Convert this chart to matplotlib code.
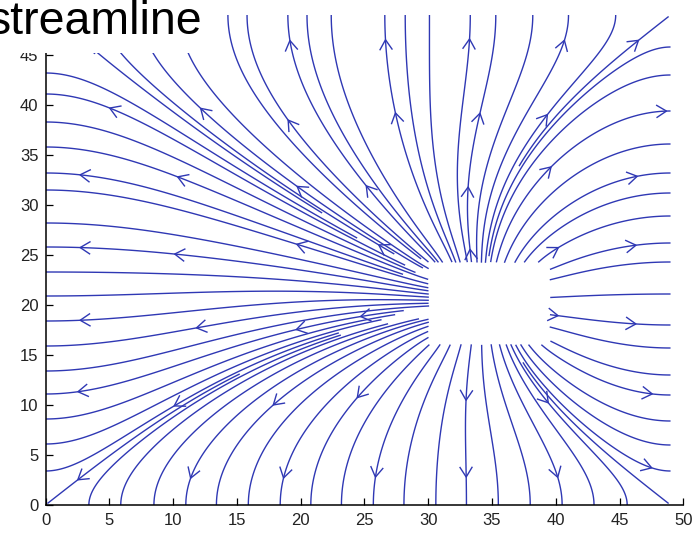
import numpy as np
import matplotlib
matplotlib.use("Agg")
import matplotlib.pyplot as plt
from matplotlib.patches import Rectangle
from matplotlib.collections import LineCollection

# ---------------- values ----------------
domain_max = 49.0                 # solver box [0,49] x [0,49], potential 0 on its edges
source_x = [30.0, 39.6]           # uniformly charged block (blank area of the chart)
source_y = [16.0, 24.3]

# where the streamlines meet the frame
bottom_ends_x = [3.4, 5.9, 8.5, 11.0, 13.4, 15.9, 18.4, 20.8, 23.2, 25.7, 28.1,
                 30.6, 33.0, 35.5, 38.0, 40.5, 43.0, 45.6]
left_ends_y = [3.4, 6.1, 8.6, 11.1, 13.4, 15.9, 18.4, 20.9, 23.3, 25.8, 28.2,
               31.5, 33.2, 35.8, 38.3, 41.1, 43.2]
right_ends_y = [3.4, 6.0, 8.4, 11.0, 13.0, 15.7, 18.0, 21.1, 24.3, 26.2, 28.9,
                31.2, 33.2, 36.1, 39.4, 43.0, 45.8]
top_ends_x = [1.5, 4.5, 7.5, 10.5, 14.3, 15.8, 19.0, 20.5, 22.4, 26.6, 28.2, 30.1,
              33.3, 35.3, 38.2, 41.0, 44.7]
corner_ends = [(0.15, 0.15), (48.85, 0.15), (48.85, 48.85), (0.15, 48.85)]

# arrow heads (approximate positions)
arrow_pts = [(5.1, 39.9), (2.7, 33.1), (2.7, 25.8), (2.7, 18.4), (2.6, 11.2), (2.5, 2.5),
             (12.4, 40.0), (10.2, 32.3), (10.2, 25.8), (11.9, 17.4), (10.0, 10.2), (11.1, 2.8),
             (19.0, 46.4), (19.6, 39.0), (19.7, 31.8), (19.7, 26.0), (19.7, 17.5), (17.5, 10.5), (18.4, 2.8),
             (26.6, 46.5), (26.6, 39.0), (25.0, 31.8), (26.0, 25.8), (24.7, 18.7), (24.7, 10.5), (25.7, 2.8),
             (33.3, 46.6), (33.9, 39.2), (32.9, 31.8), (33.1, 25.5), (33.0, 10.5), (33.0, 2.8),
             (40.7, 46.5), (38.9, 39.5), (40.1, 33.2), (40.2, 25.7), (40.1, 18.5), (39.5, 10.3), (40.3, 2.8),
             (46.3, 46.7), (48.7, 39.4), (46.3, 33.2), (46.3, 26.0), (46.3, 18.2), (47.6, 11.1), (47.5, 3.7)]

x_ticks = [0, 5, 10, 15, 20, 25, 30, 35, 40, 45, 50]
y_ticks = [0, 5, 10, 15, 20, 25, 30, 35, 40, 45]
title_text = "streamline"

# ---------------- potential field (Poisson, Dirichlet frame) ----------------
h = 0.25
n = int(round(domain_max / h)) + 1
g = np.linspace(0.0, domain_max, n)
X, Y = np.meshgrid(g, g)
src = (X >= source_x[0]) & (X <= source_x[1]) & (Y >= source_y[0]) & (Y <= source_y[1])
rho = np.where(src, 1.0, 0.0)
phi = np.zeros((n, n))
free = np.zeros((n, n), bool)
free[1:-1, 1:-1] = True
ii, jj = np.indices((n, n))
red = free & ((ii + jj) % 2 == 0)
black = free & ((ii + jj) % 2 == 1)
w = 2.0 / (1.0 + np.sin(np.pi / (n - 1)))
avg = np.zeros_like(phi)
for _ in range(1600):
    for m in (red, black):
        avg[1:-1, 1:-1] = 0.25 * (phi[:-2, 1:-1] + phi[2:, 1:-1] + phi[1:-1, :-2] + phi[1:-1, 2:]
                                  + h * h * rho[1:-1, 1:-1])
        phi = np.where(m, phi + w * (avg - phi), phi)
gy, gx = np.gradient(phi, h)


def interp(F, x, y):
    fx = min(max(x / h, 0.0), n - 1.000001)
    fy = min(max(y / h, 0.0), n - 1.000001)
    i = int(fx); j = int(fy)
    tx = fx - i; ty = fy - j
    return (F[j, i] * (1 - tx) * (1 - ty) + F[j, i + 1] * tx * (1 - ty)
            + F[j + 1, i] * (1 - tx) * ty + F[j + 1, i + 1] * tx * ty)


def direction(x, y):
    a = interp(gx, x, y); b = interp(gy, x, y)
    r = np.hypot(a, b)
    if r < 1e-12:
        return None
    return a / r, b / r


def in_source(x, y):
    return source_x[0] <= x <= source_x[1] and source_y[0] <= y <= source_y[1]


def trace(x, y, ds=0.08, max_steps=2500):
    """from a frame point uphill to the block"""
    pts = [(x, y)]
    for _ in range(max_steps):
        d1 = direction(x, y)
        if d1 is None:
            break
        xm = x + 0.5 * ds * d1[0]; ym = y + 0.5 * ds * d1[1]
        d2 = direction(xm, ym)
        if d2 is None:
            break
        x = x + ds * d2[0]; y = y + ds * d2[1]
        pts.append((x, y))
        if in_source(x, y):
            break
    return np.array(pts)


seeds = ([(v, 0.0) for v in bottom_ends_x] + [(0.0, v) for v in left_ends_y]
         + [(domain_max, v) for v in right_ends_y] + [(v, domain_max) for v in top_ends_x]
         + corner_ends)
raw = [trace(sx, sy) for sx, sy in seeds]

# ---------------- figure ----------------
W, H = 694, 535
fig = plt.figure(figsize=(W / 100, H / 100), dpi=100)
ax = fig.add_axes([45.5 / W, 30 / H, 637.8 / W, 500 / H])
ax.set_xlim(0, 50)
ax.set_ylim(0, 50)
T = ax.transData
Tinv = T.inverted()

# keep lines apart (as streamslice does): lines nearer the frame corners are cut
# where they crowd into lines already drawn
def corner_dist(p):
    return min(np.hypot(p[0] - a, p[1] - b) for a in (0, domain_max) for b in (0, domain_max))

order = sorted(range(len(seeds)), key=lambda i: -corner_dist(seeds[i]))
occ = np.zeros((H + 10, W + 10), bool)
sep = 2.2
rr = int(np.ceil(sep))
offs = np.array([(dy, dx) for dy in range(-rr, rr + 1) for dx in range(-rr, rr + 1)
                 if dx * dx + dy * dy <= sep * sep])
lines = []
for i in order:
    P = T.transform(raw[i])
    xi = np.clip(np.round(P[:, 0]).astype(int), 0, W + 9)
    yi = np.clip(np.round(P[:, 1]).astype(int), 0, H + 9)
    hit = np.nonzero(occ[yi, xi])[0]
    k = hit[0] if len(hit) else len(P)
    if k < 8:
        continue
    keep = raw[i][:k]
    lines.append(keep[::-1])          # flow order: block side first
    yy = np.clip(yi[:k, None] + offs[None, :, 0], 0, H + 9)
    xx = np.clip(xi[:k, None] + offs[None, :, 1], 0, W + 9)
    occ[yy, xx] = True

line_color = "#2f38b4"
ax.add_collection(LineCollection(lines, colors=line_color, linewidths=1.0))

for s in ("top", "right"):
    ax.spines[s].set_visible(False)
for s in ("left", "bottom"):
    ax.spines[s].set_linewidth(1.1)
ax.set_xticks(x_ticks)
ax.set_yticks(y_ticks)
ax.tick_params(direction="in", length=5, width=0.9, labelsize=12, labelcolor="#222222")
ax.tick_params(axis="x", pad=5.5)
ax.tick_params(axis="y", pad=5)
for lab in ax.get_xticklabels() + ax.get_yticklabels():
    lab.set_family("Liberation Sans")

# arrow heads snapped onto the nearest drawn line
all_px = [T.transform(L) for L in lines]
arm = 12.0
ang = np.deg2rad(32)
heads = []
for p in arrow_pts:
    pp = T.transform(p)
    best = None
    for li, Lp in enumerate(all_px):
        d = np.hypot(Lp[:, 0] - pp[0], Lp[:, 1] - pp[1])
        k = int(np.argmin(d))
        if best is None or d[k] < best[0]:
            best = (d[k], li, k)
    _, li, k = best
    Lp = all_px[li]
    k = min(max(k, 2), len(Lp) - 3)
    tip = Lp[k]
    v = Lp[k + 2] - Lp[k - 2]
    v = v / np.hypot(*v)
    pts = []
    for sgn in (1, -1):
        c, s_ = np.cos(sgn * ang), np.sin(sgn * ang)
        r = np.array([c * v[0] - s_ * v[1], s_ * v[0] + c * v[1]])
        pts.append(tip - arm * r)
    heads.append(Tinv.transform(np.array([pts[0], tip, pts[1]])))
ax.add_collection(LineCollection(heads, colors=line_color, linewidths=1.0))

# white title strip and title
fig.add_artist(Rectangle((0, (H - 52.5) / H), 215 / W, 52.5 / H, transform=fig.transFigure,
                         facecolor="white", edgecolor="none", zorder=10))
fig.text(-12.5 / W, (H - 33.5) / H, title_text, fontsize=33.5, family="Liberation Sans",
         va="baseline", ha="left", color="black", zorder=11)

fig.savefig("out.png", dpi=100)
